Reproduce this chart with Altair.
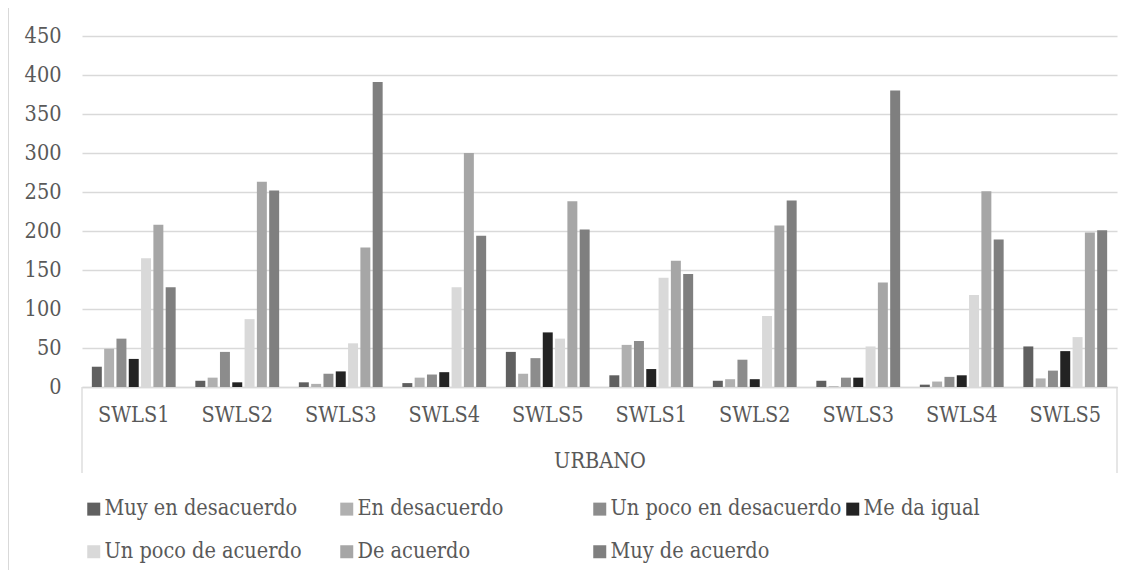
import altair as alt
import pandas as pd

groups = ["SWLS1", "SWLS2", "SWLS3", "SWLS4", "SWLS5",
          "SWLS1", "SWLS2", "SWLS3", "SWLS4", "SWLS5"]
outer_label = "URBANO"
cats = ["Muy en desacuerdo", "En desacuerdo", "Un poco en desacuerdo", "Me da igual",
        "Un poco de acuerdo", "De acuerdo", "Muy de acuerdo"]
colors = ["#606060", "#b0b0b0", "#8c8c8c", "#232323", "#d9d9d9", "#a6a6a6", "#7f7f7f"]

muy_des = [26, 8, 6, 5, 45, 15, 8, 8, 3, 52]
en_des = [49, 12, 4, 12, 17, 54, 10, 1, 7, 11]
poco_des = [62, 45, 17, 16, 37, 59, 35, 12, 13, 21]
igual = [36, 6, 20, 19, 70, 23, 10, 12, 15, 46]
poco_ac = [165, 87, 56, 128, 62, 140, 91, 52, 118, 64]
de_ac = [208, 263, 179, 300, 238, 162, 207, 134, 251, 198]
muy_ac = [128, 252, 391, 194, 202, 145, 239, 380, 189, 201]
y_ticks = [0, 50, 100, 150, 200, 250, 300, 350, 400, 450]

series = [muy_des, en_des, poco_des, igual, poco_ac, de_ac, muy_ac]
keys = [f"{i}|{g}" for i, g in enumerate(groups)]
rows = []
for ci, c in enumerate(cats):
    for gi, k in enumerate(keys):
        rows.append({"key": k, "cat": c, "value": series[ci][gi]})
df = pd.DataFrame(rows)

FONT = "DejaVu Serif Condensed, Roboto"
FS = 21.5
TXT = "#595959"
LINE = "#d9d9d9"
W, H = 1035, 351

bars = alt.Chart(df).mark_bar().encode(
    x=alt.X("key:N", sort=keys, title=outer_label,
            scale=alt.Scale(paddingInner=0, paddingOuter=0),
            axis=alt.Axis(labelExpr="split(datum.label, '|')[1]", labelAngle=0,
                          labelFont=FONT, labelFontSize=FS, labelColor=TXT,
                          labelPadding=17, ticks=False, domainColor=LINE, domainWidth=1.3,
                          grid=False, titleFont=FONT, titleFontSize=FS, titleColor=TXT,
                          titleFontWeight="normal", titleBaseline="middle",
                          titleY=74, titleX=W / 2)),
    xOffset=alt.XOffset("cat:N", sort=cats,
                        scale=alt.Scale(paddingInner=0.19, paddingOuter=0.8)),
    y=alt.Y("value:Q", title=None,
            scale=alt.Scale(domain=[0, 450], nice=False),
            axis=alt.Axis(values=y_ticks, labelFont=FONT, labelFontSize=FS,
                          labelColor=TXT, labelPadding=21, ticks=False, domain=False,
                          gridColor=LINE, gridWidth=1.3)),
    color=alt.Color("cat:N", sort=cats,
                    scale=alt.Scale(domain=cats, range=colors),
                    legend=alt.Legend(title=None, orient="none", legendX=1, legendY=462,
                                      direction="horizontal", columns=4, gridAlign="all",
                                      symbolType="square", symbolSize=169,
                                      symbolStrokeWidth=0, labelFont=FONT,
                                      labelFontSize=FS, labelColor=TXT, labelOffset=0,
                                      labelLimit=400, columnPadding=-4, rowPadding=20,
                                      padding=0)),
)

dummy = pd.DataFrame({"p": [0]})
vline_left = alt.Chart(dummy).mark_rule(color=LINE, strokeWidth=1.3).encode(
    x=alt.value(0), y=alt.value(H), y2=alt.value(H + 86)
)
vline_right = alt.Chart(dummy).mark_rule(color=LINE, strokeWidth=1.3).encode(
    x=alt.value(W), y=alt.value(H), y2=alt.value(H + 86)
)
top_border = alt.Chart(dummy).mark_rule(color=LINE, strokeWidth=1).encode(
    x=alt.value(-73.5), x2=alt.value(W + 14), y=alt.value(-28.5)
)
left_border = alt.Chart(dummy).mark_rule(color=LINE, strokeWidth=1).encode(
    x=alt.value(-73.5), y=alt.value(-28.5), y2=alt.value(H + 200)
)

chart = alt.layer(bars, vline_left, vline_right, top_border, left_border).properties(
    width=W, height=H,
    background="white",
    autosize=alt.AutoSizeParams(type="none"),
    padding={"left": 74, "top": 28, "right": 13, "bottom": 183},
).configure_view(stroke=None)

chart.save("out.html", embed_options={"renderer": "svg", "actions": False})
